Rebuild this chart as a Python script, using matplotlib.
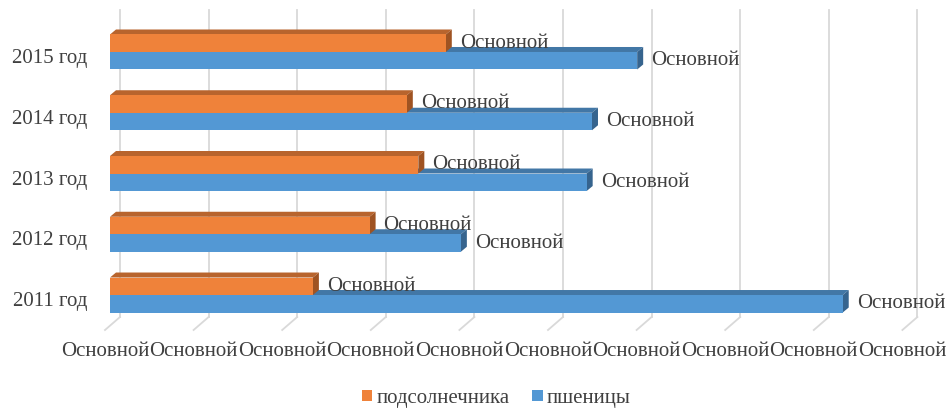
#!/usr/bin/env python3

"""Horizontal 3D-style bar chart: подсолнечника vs пшеницы by year."""

import matplotlib
matplotlib.use('Agg')
import matplotlib.pyplot as plt
from matplotlib.patches import Polygon, Patch
from matplotlib.transforms import IdentityTransform

YEARS = ['2011 год', '2012 год', '2013 год', '2014 год', '2015 год']
SUNFLOWER = [2.29, 2.93, 3.48, 3.35, 3.79]
WHEAT = [8.27, 3.96, 5.38, 5.44, 5.95]
X_TICKS = list(range(10))
VALUE_LABEL = 'Основной'
SERIES = ['подсолнечника', 'пшеницы']

TEXT_COLOR = '#404040'
FONT = ['Liberation Serif', 'DejaVu Serif']
FSIZE = 15

# front / top / side colours per series
ORANGE = ('#ef823a', '#b8642d', '#9f5322')
BLUE = ('#5398d4', '#4277a6', '#36648e')

# pixel offsets for the fake depth
FRONT = (5, 4)
BACK = (11, 9)
WALL = (15, 13)


def bar3d(ax, x0, x1, y0, y1, colors):
    """draw a box from data coords with a small depth in pixels"""
    t = ax.transData.transform
    ax0, ay0 = t((x0, y0))
    ax1, ay1 = t((x1, y1))
    fx, fy = FRONT
    bx, by = BACK
    top = [(ax0 + fx, ay1 + fy), (ax1 + fx, ay1 + fy), (ax1 + bx, ay1 + by), (ax0 + bx, ay1 + by)]
    side = [(ax1 + fx, ay0 + fy), (ax1 + bx, ay0 + by), (ax1 + bx, ay1 + by), (ax1 + fx, ay1 + fy)]
    front = [(ax0 + fx, ay0 + fy), (ax1 + fx, ay0 + fy), (ax1 + fx, ay1 + fy), (ax0 + fx, ay1 + fy)]
    for pts, c in ((top, colors[1]), (side, colors[2]), (front, colors[0])):
        ax.add_patch(Polygon(pts, closed=True, facecolor=c, edgecolor='none',
                             transform=IdentityTransform(), clip_on=False, zorder=3))


def main():
    plt.rcParams['font.family'] = FONT
    fig = plt.figure(figsize=(9.49, 4.09), dpi=100)
    ax = fig.add_axes([105 / 949, (409 - 330) / 409, 797.4 / 949, 307 / 409])
    ax.set_xlim(0, 9)
    ax.set_ylim(-0.51, 4.543)
    for s in ax.spines.values():
        s.set_visible(False)

    # gridlines on the back wall plus the floor diagonal
    t = ax.transData.transform
    y_lo, y_hi = ax.get_ylim()
    for xv in X_TICKS:
        bx0, by0 = t((xv, y_lo))
        bx1, by1 = t((xv, y_hi))
        ax.plot([bx0 + WALL[0], bx1 + WALL[0]], [by0 + WALL[1], by1 + WALL[1]],
                color='#d9d9d9', lw=1.3, transform=IdentityTransform(), clip_on=False, zorder=1)
        ax.plot([bx0 + WALL[0], bx0], [by0 + WALL[1], by0],
                color='#d9d9d9', lw=1.3, transform=IdentityTransform(), clip_on=False, zorder=1)

    h = 17.5 / 60.75
    for i in range(len(YEARS)):
        bar3d(ax, 0, WHEAT[i], i - h, i, BLUE)
        bar3d(ax, 0, SUNFLOWER[i], i, i + h, ORANGE)
        for v, yc in ((SUNFLOWER[i], i + h / 2), (WHEAT[i], i - h / 2)):
            ax.annotate(VALUE_LABEL, xy=(v, yc), xytext=(19, 4), textcoords='offset pixels',
                        ha='left', va='center', fontsize=FSIZE, color=TEXT_COLOR, zorder=5)

    ax.set_xticks(X_TICKS)
    ax.set_xticklabels([VALUE_LABEL] * len(X_TICKS), fontsize=FSIZE, color=TEXT_COLOR)
    ax.set_yticks(range(len(YEARS)))
    ax.set_yticklabels(YEARS, fontsize=FSIZE, color=TEXT_COLOR)
    ax.tick_params(axis='x', length=0, pad=9)
    ax.tick_params(axis='y', length=0, pad=13)

    handles = [Patch(facecolor=ORANGE[0]), Patch(facecolor=BLUE[0])]
    fig.legend(handles, SERIES, loc='center', bbox_to_anchor=(0.523, 0.026), ncol=2,
               frameon=False, fontsize=FSIZE, labelcolor=TEXT_COLOR,
               handlelength=0.5, handleheight=0.5, handletextpad=0.2, columnspacing=1.1,
               borderpad=0.1)

    fig.savefig('out.png', dpi=100)


if __name__ == "__main__":
    main()
